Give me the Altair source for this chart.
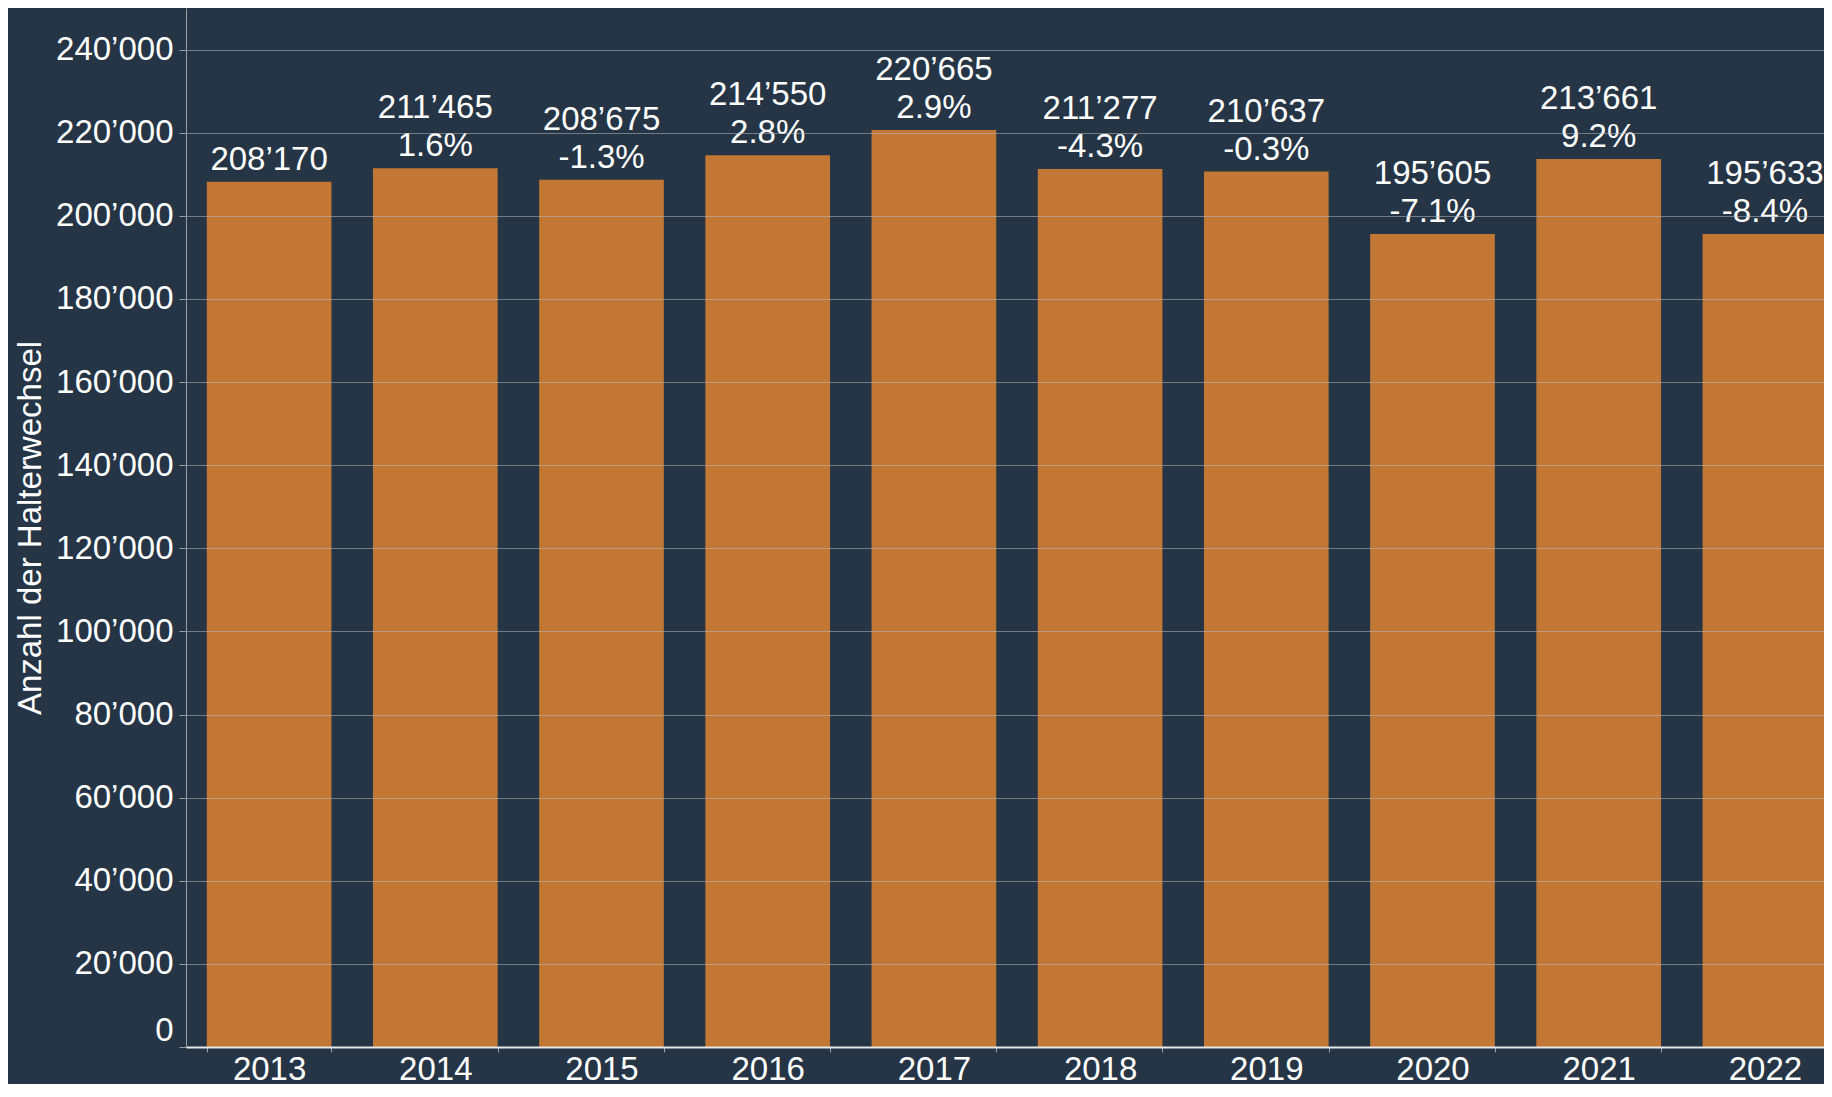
import altair as alt
import pandas as pd

# ---- data ----
years = ["2013", "2014", "2015", "2016", "2017", "2018", "2019", "2020", "2021", "2022"]
values = [208170, 211465, 208675, 214550, 220665, 211277, 210637, 195605, 213661, 195633]
changes = ["", "1.6%", "-1.3%", "2.8%", "2.9%", "-4.3%", "-0.3%", "-7.1%", "9.2%", "-8.4%"]
y_ticks = [0, 20000, 40000, 60000, 80000, 100000, 120000, 140000, 160000, 180000, 200000, 220000, 240000]

labels = []
for v, c in zip(values, changes):
    s = f"{v:,}".replace(",", "\u2019")
    # two lines: value on top, change below (first label has no change)
    labels.append(s + "\n" + c if c else "\n" + s)

df = pd.DataFrame({"Jahr": years, "Anzahl": values, "Label": labels})

FONT = "Liberation Sans"
BG = "#253546"
BAR = "#C27834"
GRID = "#b4b8bd"
FS = 33
H = 1039

x = alt.X(
    "Jahr:N",
    sort=None,
    title=None,
    scale=alt.Scale(paddingInner=0.25, paddingOuter=0.125, range=[0, 1662]),
    axis=alt.Axis(
        labelAngle=0,
        labelFontSize=FS,
        labelColor="white",
        labelFont=FONT,
        labelPadding=1,
        domainColor="#e8e8e8",
        domainWidth=2,
        tickBand="extent",
        tickColor="#9aa0a6",
        tickSize=5,
        grid=False,
        zindex=1,
    ),
)

y = alt.Y(
    "Anzahl:Q",
    title="Anzahl der Halterwechsel",
    scale=alt.Scale(domain=[0, 250000], nice=False, zero=True),
    axis=alt.Axis(
        values=y_ticks,
        labelExpr="replace(format(datum.value, ','), ',', '\u2019')",
        labelFontSize=FS,
        labelColor="white",
        labelFont=FONT,
        labelPadding=6,
        labelFlush=True,
        tickSize=7,
        tickColor="#9aa0a6",
        domainColor="#9aa0a6",
        gridColor=GRID,
        gridOpacity=0.55,
        gridWidth=1,
        titleFontSize=33,
        titleFont=FONT,
        titleFontWeight="normal",
        titleColor="white",
        titleAngle=270,
        titleAlign="center",
        titleBaseline="alphabetic",
        titleX=-146,
        titleY=H / 2,
        zindex=1,
    ),
)

bars = alt.Chart(df).mark_bar(color=BAR).encode(x=x, y=y)

text = alt.Chart(df).mark_text(
    color="white",
    font=FONT,
    fontSize=FS,
    align="center",
    baseline="bottom",
    dy=-43,
    lineBreak="\n",
    lineHeight=38,
).encode(x=x, y=y, text="Label:N")

chart = (
    (bars + text)
    .properties(
        width=1638,
        height=H,
        autosize=alt.AutoSizeParams(type="none"),
        padding={"left": 178, "top": 0, "right": 0, "bottom": 37},
    )
    .configure(background=BG, font=FONT)
    .configure_view(stroke=None)
)

chart.save("out.html", embed_options={"renderer": "svg", "actions": False})
